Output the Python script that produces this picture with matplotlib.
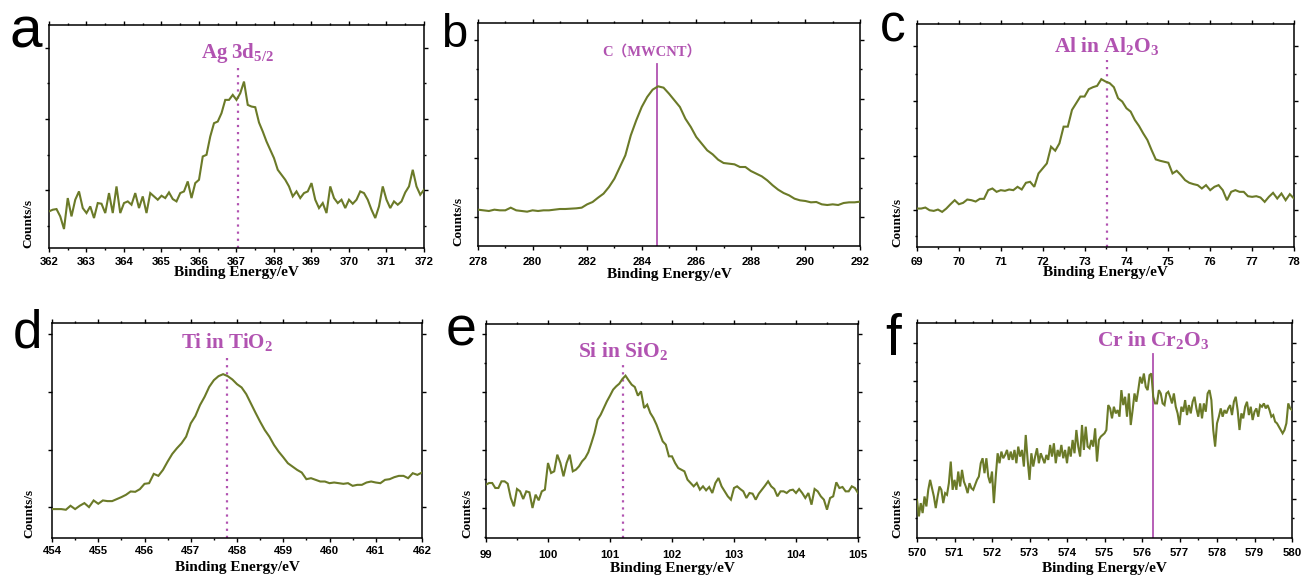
import numpy as np
import matplotlib
matplotlib.use("Agg")
import matplotlib.pyplot as plt
from matplotlib.ticker import MultipleLocator, FixedLocator, NullFormatter

W, H = 1302, 577
DPI = 100
plt.rcParams['mathtext.fontset'] = 'custom'
plt.rcParams['mathtext.rm'] = 'Liberation Serif'
plt.rcParams['mathtext.bf'] = 'Liberation Serif:bold'
plt.rcParams['mathtext.it'] = 'Liberation Serif:italic'

# ---------------- data (binding energy ranges and counts, arbitrary units) -------------
a_range = (362.0, 372.0)
a_counts = [110, 115, 117, 95, 57, 150, 95, 145, 170, 120,
            105, 125, 90, 135, 133, 105, 165, 105, 185, 105,
            135, 140, 130, 165, 120, 155, 105, 165, 155, 145,
            157, 150, 167, 147, 140, 165, 170, 200, 150, 195,
            205, 275, 280, 335, 375, 380, 405, 445, 445, 460,
            445, 465, 500, 430, 425, 423, 377, 350, 320, 295,
            270, 235, 220, 205, 185, 155, 170, 150, 165, 170,
            195, 145, 120, 135, 105, 185, 150, 135, 145, 120,
            145, 133, 145, 170, 165, 145, 115, 90, 125, 185,
            145, 120, 140, 130, 140, 167, 185, 235, 185, 160,
            175]
a_peak = 367.05

b_range = (278.0, 292.0)
b_counts = [109, 107, 105, 109, 107, 107, 115, 107, 105, 103,
            107, 105, 107, 107, 109, 111, 111, 112, 113, 115,
            125, 132, 145, 157, 177, 202, 237, 272, 332, 377,
            417, 447, 469, 479, 475, 457, 437, 417, 382, 357,
            327, 307, 287, 275, 259, 249, 247, 245, 237, 237,
            225, 217, 209, 197, 182, 169, 159, 152, 142, 137,
            135, 131, 132, 125, 123, 125, 123, 129, 131, 131,
            133]
b_peak = 284.57

c_range = (69.0, 78.0)
c_counts = [115, 115, 118, 110, 108, 112, 105, 115, 128, 140,
            128, 132, 142, 140, 136, 144, 144, 170, 175, 165,
            170, 168, 172, 170, 180, 172, 192, 195, 180, 220,
            235, 250, 300, 288, 310, 360, 360, 410, 430, 450,
            450, 472, 478, 482, 502, 495, 490, 478, 445, 435,
            415, 405, 380, 362, 340, 320, 290, 262, 258, 255,
            252, 220, 228, 215, 200, 192, 188, 185, 175, 185,
            170, 180, 185, 170, 140, 165, 170, 165, 165, 152,
            150, 152, 148, 135, 150, 162, 145, 160, 140, 158,
            145]
c_peak = 73.54

d_range = (454.0, 462.0)
d_counts = [87, 87, 87, 85, 97, 87, 97, 105, 93, 113,
            103, 113, 111, 111, 117, 123, 130, 140, 139, 147,
            163, 165, 193, 187, 205, 230, 253, 270, 285, 305,
            345, 367, 400, 425, 455, 475, 487, 493, 487, 477,
            463, 453, 433, 405, 377, 350, 325, 305, 280, 260,
            243, 225, 215, 205, 197, 177, 180, 175, 170, 170,
            165, 167, 165, 163, 165, 157, 160, 160, 167, 170,
            167, 165, 175, 177, 183, 187, 187, 180, 195, 190,
            197]
d_peak = 457.78

e_range = (99.0, 105.0)
e_counts = [160, 165, 165, 150, 150, 170, 170, 163, 120, 95,
            147, 140, 117, 140, 137, 90, 130, 113, 140, 145,
            225, 195, 200, 250, 225, 185, 225, 250, 200, 205,
            215, 230, 240, 257, 285, 315, 355, 370, 390, 410,
            427, 445, 455, 463, 477, 487, 473, 460, 453, 427,
            440, 390, 400, 375, 360, 340, 315, 290, 280, 245,
            245, 225, 210, 205, 200, 175, 165, 155, 165, 145,
            155, 143, 153, 135, 165, 180, 155, 140, 125, 115,
            150, 155, 147, 140, 120, 135, 133, 115, 133, 145,
            157, 170, 155, 147, 125, 140, 140, 135, 143, 145,
            135, 147, 135, 120, 135, 100, 147, 140, 125, 115,
            85, 120, 125, 167, 150, 153, 140, 140, 155, 150,
            135]
e_peak = 101.21

f_range = (570.0, 580.0)
f_counts = [115, 65, 105, 75, 125, 95, 145, 175, 150, 125,
            90, 125, 155, 145, 105, 135, 130, 165, 230, 145,
            175, 145, 200, 155, 205, 170, 155, 135, 165, 150,
            145, 160, 175, 185, 225, 240, 195, 240, 185, 165,
            200, 105, 185, 255, 225, 260, 240, 250, 265, 235,
            260, 235, 265, 225, 275, 245, 265, 215, 310, 235,
            175, 255, 215, 245, 270, 225, 255, 240, 225, 250,
            235, 280, 245, 285, 225, 265, 245, 280, 240, 265,
            225, 275, 245, 295, 255, 325, 275, 245, 340, 265,
            335, 275, 270, 295, 275, 330, 230, 295, 305, 310,
            315, 325, 400, 390, 360, 395, 375, 385, 365, 445,
            400, 425, 365, 435, 340, 385, 435, 410, 445, 485,
            465, 495, 455, 445, 490, 495, 425, 405, 405, 445,
            435, 405, 400, 435, 440, 425, 405, 435, 395, 375,
            340, 395, 380, 415, 370, 400, 375, 410, 425, 390,
            365, 405, 360, 405, 380, 435, 445, 415, 325, 275,
            345, 365, 390, 365, 385, 375, 390, 400, 370, 410,
            425, 385, 325, 375, 360, 395, 410, 370, 395, 355,
            380, 390, 365, 400, 395, 405, 390, 400, 385, 365,
            370, 350, 345, 335, 325, 315, 325, 345, 405, 390,
            385]
f_peak = 576.30

labels_peak = [r'$\mathbf{Ag\ 3d_{5/2}}$', 'C（MWCNT）', r'$\mathbf{Al\ in\ Al_2O_3}$',
               r'$\mathbf{Ti\ in\ TiO_2}$', r'$\mathbf{Si\ in\ SiO_2}$', r'$\mathbf{Cr\ in\ Cr_2O_3}$']
panel_letters = ['a', 'b', 'c', 'd', 'e', 'f']
xlabel_text = 'Binding Energy/eV'
ylabel_text = 'Counts/s'

# ---------------- styling / layout -------------
OLIVE = '#6b7a28'
PURPLE = '#b153b1'

panels = [
    dict(rng=a_range, y=a_counts, peak=a_peak, box=(49, 424, 25, 248), ylim=670,
         ymaj=[173, 388, 602], ymin=[65, 280, 495], xmaj=1, xmin=0.5,
         ls='dot', ltop=540, lab_x=367.02, lab_y=587, lab_fs=15,
         tick_c=13.5, xl_c=272.5, yl_dx=-21, let=(10, 47, 42)),
    dict(rng=b_range, y=b_counts, peak=b_peak, box=(478, 860, 23, 246), ylim=669,
         ymaj=[87, 264, 441, 619], ymin=[175, 352, 530], xmaj=2, xmin=1,
         ls='solid', ltop=547, lab_x=284.37, lab_y=582, lab_fs=10.5,
         tick_c=15.5, xl_c=274.5, yl_dx=-20, let=(441, 47, 34)),
    dict(rng=c_range, y=c_counts, peak=c_peak, box=(917, 1294, 24, 247), ylim=667,
         ymaj=[112, 273, 437, 600], ymin=[32, 192, 355, 518], xmaj=1, xmin=0.5,
         ls='dot', ltop=560, lab_x=73.52, lab_y=600, lab_fs=15.5,
         tick_c=14.5, xl_c=272.5, yl_dx=-20, let=(880, 41, 37)),
    dict(rng=d_range, y=d_counts, peak=d_peak, box=(52, 422, 323, 538), ylim=647,
         ymaj=[93, 265, 440, 615], ymin=[], xmaj=1, xmin=0.5,
         ls='dot', ltop=550, lab_x=457.78, lab_y=590, lab_fs=15,
         tick_c=13, xl_c=567, yl_dx=-23, let=(13, 348, 38)),
    dict(rng=e_range, y=e_counts, peak=e_peak, box=(486, 858, 324, 538), ylim=642,
         ymaj=[90, 264, 438, 612], ymin=[3, 177, 351, 525], xmaj=1, xmin=0.5,
         ls='dot', ltop=525, lab_x=101.21, lab_y=560, lab_fs=15.5,
         tick_c=16.5, xl_c=568.5, yl_dx=-19, let=(446, 345, 40)),
    dict(rng=f_range, y=f_counts, peak=f_peak, box=(917, 1292, 323, 538), ylim=647,
         ymaj=[118, 235, 353, 471, 588], ymin=[59, 177, 295, 412, 530], xmaj=1, xmin=0.5,
         ls='solid', ltop=553, lab_x=576.29, lab_y=595, lab_fs=15.5,
         tick_c=14.5, xl_c=568.5, yl_dx=-20, let=(885, 355, 41)),
]

fig = plt.figure(figsize=(W / DPI, H / DPI), dpi=DPI)
fig.patch.set_facecolor('white')

px = 72.0 / DPI  # points per pixel
MAJ_L = 4.0
MIN_L = 2.5

for i, p in enumerate(panels):
    l, r, t, b = p['box']
    ax = fig.add_axes([l / W, 1 - b / H, (r - l) / W, (b - t) / H])
    y = np.array(p['y'], dtype=float)
    x = np.linspace(p['rng'][0], p['rng'][1], len(y))
    ax.plot(x, y, color=OLIVE, lw=1.5, solid_joinstyle='miter', zorder=3)
    ax.set_xlim(*p['rng'])
    ax.set_ylim(0, p['ylim'])

    # reference line at peak position
    ytop = p['ltop']
    if p['ls'] == 'dot':
        ax.plot([p['peak'], p['peak']], [0, ytop], color=PURPLE, lw=1.6,
                linestyle=(0, (1, 2.2)), zorder=2)
    else:
        ax.plot([p['peak'], p['peak']], [0, ytop], color=PURPLE, lw=1.3, zorder=2)

    # peak label
    fam = ['Liberation Serif', 'Noto Sans CJK SC']
    ax.text(p['lab_x'], p['lab_y'], labels_peak[i], color=PURPLE, fontsize=p['lab_fs'],
            fontweight='bold', family=fam, ha='center', va='center', zorder=4)

    # ticks
    ax.xaxis.set_major_locator(MultipleLocator(p['xmaj']))
    ax.xaxis.set_minor_locator(MultipleLocator(p['xmin']))
    ax.yaxis.set_major_locator(FixedLocator(p['ymaj']))
    ax.yaxis.set_minor_locator(FixedLocator(p['ymin']))
    ax.yaxis.set_major_formatter(NullFormatter())
    ax.tick_params(axis='both', which='both', direction='out', top=True, right=True,
                   width=1.0, color='black')
    ax.tick_params(axis='both', which='major', length=MAJ_L * px)
    ax.tick_params(axis='both', which='minor', length=MIN_L * px)
    pad_px = p['tick_c'] - 4.5 - MAJ_L
    ax.tick_params(axis='x', which='major', labelsize=8.2, pad=pad_px * px)
    for lab in ax.get_xticklabels():
        lab.set_fontfamily('Liberation Sans')
        lab.set_fontweight('bold')
    for s in ax.spines.values():
        s.set_linewidth(1.1)
        s.set_color('black')

    # axis labels placed in pixel positions
    fig.text((l + r) / 2 / W, 1 - p['xl_c'] / H, xlabel_text, ha='center', va='center',
             fontsize=11, fontweight='bold', family='Liberation Serif')
    ax.text(p['yl_dx'] / (r - l), 0.0, ylabel_text, rotation=90, transform=ax.transAxes,
            ha='center', va='bottom', fontsize=9.5, fontweight='bold', family='Liberation Serif')

    # panel letter
    lx, lby, lfs = p['let']
    fig.text(lx / W, 1 - lby / H, panel_letters[i], ha='left', va='baseline',
             fontsize=lfs, family='Liberation Sans', color='black')

fig.savefig('out.png', dpi=DPI, facecolor='white')
